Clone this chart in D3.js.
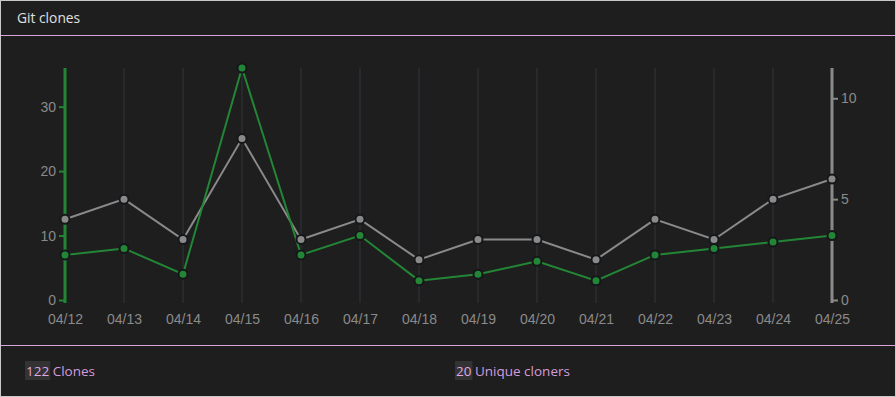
<!DOCTYPE html>
<html><head><meta charset="utf-8">
<script src="https://cdn.jsdelivr.net/npm/d3@7"></script>
<style>
html,body{margin:0;padding:0;background:#1e1e1e;}
svg{display:block;}
</style></head><body>
<svg id="c" width="896" height="397"></svg>
<script>
const dates = ["04/12","04/13","04/14","04/15","04/16","04/17","04/18","04/19","04/20","04/21","04/22","04/23","04/24","04/25"];
const clones = [7,8,4,36,7,10,3,4,6,3,7,8,9,10];
const uniques = [4,5,3,8,3,4,2,3,3,2,4,3,5,6];
const leftTicks = [0,10,20,30];
const rightTicks = [0,5,10];
const totalClones = 122;
const totalUniques = 20;

const W = 896, H = 397;
const svg = d3.select("#c");
const font = "'Segoe UI','Open Sans','Noto Sans',sans-serif";
const axisFont = "'Liberation Sans',Arial,Helvetica,sans-serif";
svg.append("rect").attr("x",0.5).attr("y",0.5).attr("width",W-1).attr("height",H-1)
  .attr("fill","#1e1e1e").attr("stroke","#c8c8c8").attr("stroke-width",1);
svg.append("text").attr("x",17).attr("y",23).text("Git clones")
  .attr("fill","#e0e0e0").attr("font-family",font).attr("font-size",13.8);
svg.append("line").attr("x1",1).attr("x2",W-1).attr("y1",35.5).attr("y2",35.5).attr("stroke","#d9a4dc");
svg.append("line").attr("x1",1).attr("x2",W-1).attr("y1",345.5).attr("y2",345.5).attr("stroke","#d9a4dc");

const x = d3.scalePoint().domain(dates).range([65,832]);
const yL = d3.scaleLinear().domain([0,36]).range([300,68]);
const yR = d3.scaleLinear().domain([0,11.5]).range([300,68]);

// grid
svg.append("g").selectAll("line").data(dates).join("line")
  .attr("x1",d=>x(d)).attr("x2",d=>x(d)).attr("y1",68).attr("y2",303)
  .attr("stroke","#30353d").attr("stroke-width",1);

// left axis
const gl = svg.append("g").attr("transform","translate(65,0)")
  .call(d3.axisLeft(yL).tickValues(leftTicks).tickSize(6).tickSizeOuter(0).tickPadding(3));
gl.select(".domain").attr("stroke","#238636").attr("stroke-width",3).attr("d","M0,68V303");
gl.selectAll(".tick line").attr("stroke","#238636").attr("stroke-width",2);
gl.selectAll("text").attr("fill","#8a8a8a").attr("font-family",axisFont).attr("font-size",14);

// right axis
const gr = svg.append("g").attr("transform","translate(832,0)")
  .call(d3.axisRight(yR).tickValues(rightTicks).tickSize(6).tickSizeOuter(0).tickPadding(3));
gr.select(".domain").attr("stroke","#8a8a8a").attr("stroke-width",3).attr("d","M0,68V303");
gr.selectAll(".tick line").attr("stroke","#8a8a8a").attr("stroke-width",2);
gr.selectAll("text").attr("fill","#8a8a8a").attr("font-family",axisFont).attr("font-size",14);

// x axis labels
const gx = svg.append("g").attr("transform","translate(0,310)")
  .call(d3.axisBottom(x).tickSize(0).tickPadding(4));
gx.select(".domain").remove();
gx.selectAll("text").attr("fill","#8a8a8a").attr("font-family",axisFont).attr("font-size",14);

// lines
const lineU = d3.line().x((d,i)=>x(dates[i])).y(d=>yR(d));
const lineC = d3.line().x((d,i)=>x(dates[i])).y(d=>yL(d));
svg.append("path").datum(uniques).attr("d",lineU).attr("fill","none").attr("stroke","#8a8a8a").attr("stroke-width",2);
svg.append("path").datum(clones).attr("d",lineC).attr("fill","none").attr("stroke","#238636").attr("stroke-width",2);
svg.append("g").selectAll("circle").data(uniques).join("circle")
  .attr("cx",(d,i)=>x(dates[i])).attr("cy",d=>yR(d)).attr("r",4.5)
  .attr("fill","#8a8a8a").attr("stroke","#15171a").attr("stroke-width",2);
svg.append("g").selectAll("circle").data(clones).join("circle")
  .attr("cx",(d,i)=>x(dates[i])).attr("cy",d=>yL(d)).attr("r",4.5)
  .attr("fill","#238636").attr("stroke","#15171a").attr("stroke-width",2);

// footer
function footer(xp, num, label){
  const g = svg.append("g");
  const t = g.append("text").attr("x",xp).attr("y",376).attr("font-family",font).attr("font-size",13.5);
  t.append("tspan").attr("fill","#dfa8e6").text(num);
  t.append("tspan").attr("fill","#d49cdc").text(" "+label);
  const tmp = g.append("text").attr("font-family",font).attr("font-size",13.5).text(num);
  const w = tmp.node().getComputedTextLength(); tmp.remove();
  g.insert("rect","text").attr("x",xp-1).attr("y",361).attr("width",w+2).attr("height",19).attr("fill","#333333");
}
footer(26, String(totalClones), "Clones");
footer(456, String(totalUniques), "Unique cloners");
</script>
</body></html>
